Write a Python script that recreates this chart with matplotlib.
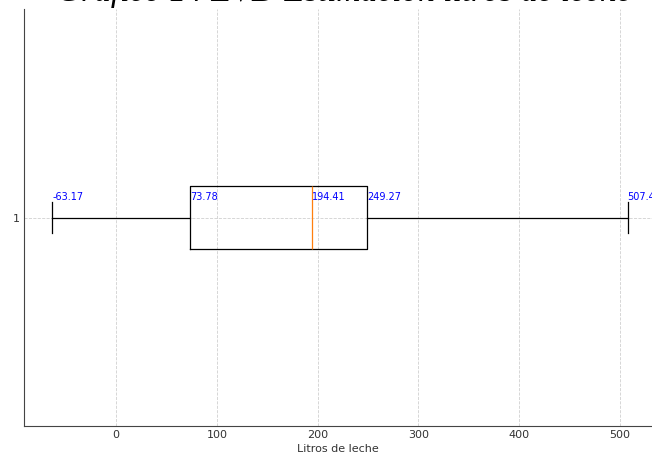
import matplotlib
matplotlib.use("Agg")
import matplotlib.pyplot as plt

# Datos del diagrama de caja (litros de leche)
etiqueta = "1"
bigote_inf = -63.17
q1 = 73.78
mediana = 194.41
q3 = 249.27
bigote_sup = 507.45

valores = [bigote_inf, q1, mediana, q3, bigote_sup]

stats = [{
    "label": etiqueta,
    "whislo": bigote_inf,
    "q1": q1,
    "med": mediana,
    "q3": q3,
    "whishi": bigote_sup,
    "fliers": [],
}]

fig = plt.figure(figsize=(6.52, 4.58), dpi=100)
W, H = 652, 458
ax = fig.add_axes([24 / W, 32 / H, 1 - 24 / W, (426 - 9) / H])

ax.bxp(stats, orientation="horizontal", widths=0.15,
       boxprops=dict(color="black", linewidth=0.9),
       whiskerprops=dict(color="black", linewidth=0.9),
       capprops=dict(color="black", linewidth=0.9),
       medianprops=dict(color="#ff7f0e", linewidth=0.9))

for v in valores:
    ax.text(v, 1.05, f"{v:.2f}", color="blue", fontsize=7,
            ha="left", va="center")

ax.set_xlim(-91.3, 531.7)
ax.set_ylim(0.5, 1.5)
ax.set_xticks([0, 100, 200, 300, 400, 500])
ax.tick_params(length=0, labelsize=8, colors="#333333", pad=3)
ax.grid(True, linestyle="--", color="#d0d0d0", linewidth=0.6)
ax.set_axisbelow(True)
for s in ["top", "right"]:
    ax.spines[s].set_visible(False)
for s in ["left", "bottom"]:
    ax.spines[s].set_color("#444444")

ax.set_xlabel("Litros de leche", fontsize=8, color="#333333", labelpad=3)

fig.text(344 / W, 1 - 1 / H, "Gráfico 14 EVD Estimación litros de leche",
         family="Liberation Serif", style="italic", fontsize=24,
         ha="center", va="baseline")

fig.savefig("out.png", dpi=100)
